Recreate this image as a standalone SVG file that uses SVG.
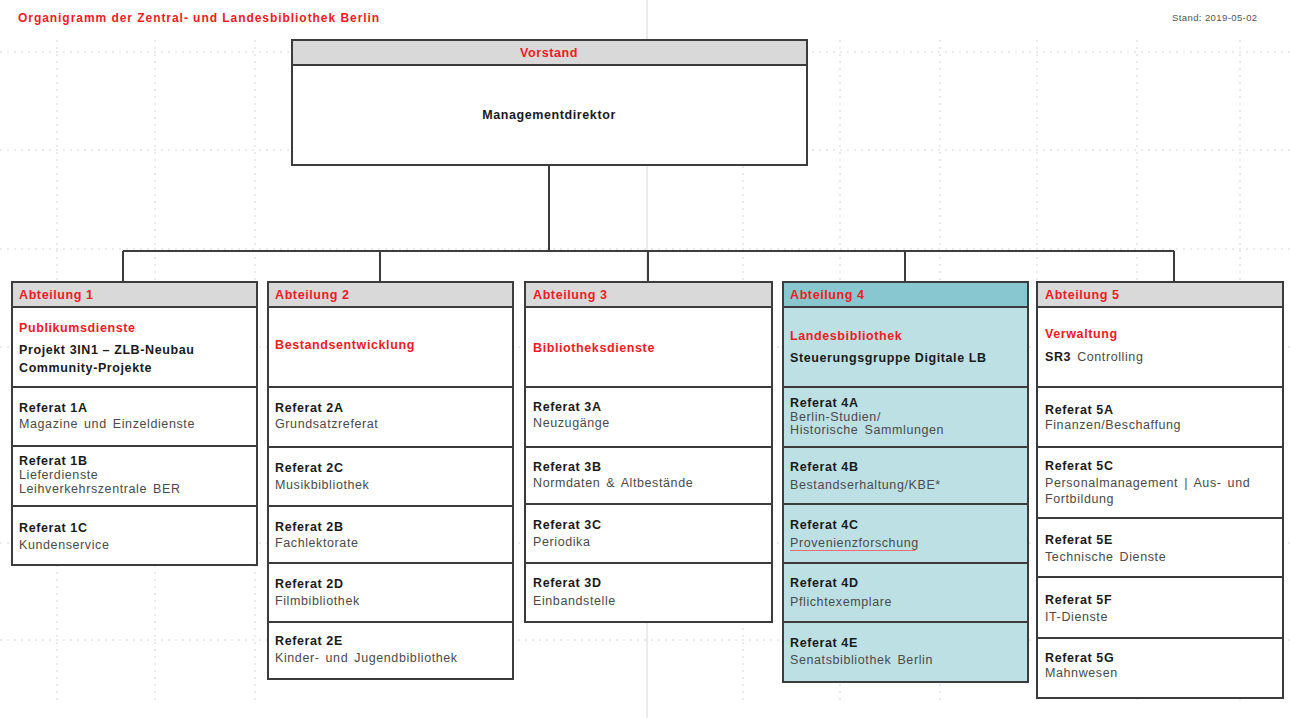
<svg xmlns="http://www.w3.org/2000/svg" width="1290" height="718" viewBox="0 0 1290 718">
<style>
text{font-family:"Liberation Sans",Arial,sans-serif;font-size:12.5px;letter-spacing:0.6px}
.red{fill:#ee1c25;font-weight:bold}
.b{fill:#1a1a1a;font-weight:bold}
.s{fill:#4a4a4a;word-spacing:2px}
.box{fill:#ffffff;stroke:#3c3c3c;stroke-width:2}
.hd{fill:#d9d9d9;stroke:#3c3c3c;stroke-width:2}
.tbox{fill:#bde0e4;stroke:#3c3c3c;stroke-width:2}
.thd{fill:#88c7cf;stroke:#3c3c3c;stroke-width:2}
.conn{stroke:#3c3c3c;stroke-width:2;fill:none}
.grid{stroke:#d4d4d4;stroke-width:1;stroke-dasharray:2 5;fill:none}
</style>
<rect width="1290" height="718" fill="#ffffff"/>
<g id="grid">
<path class="grid" d="M0 52H1290M0 150H1290M0 249H1290M0 347H1290M0 543H1290M0 640H1290"/>
<path class="grid" d="M57 40V700M155 40V700M255 40V700M743 40V700M840 40V700M940 40V700M1037 40V700M1137 40V700M1240 40V700"/>
<path d="M647 0V718" stroke="#d6d6d6" stroke-width="1" fill="none"/>
</g>
<text x="18" y="22" class="red" style="font-size:12px;letter-spacing:0.95px">Organigramm der Zentral- und Landesbibliothek Berlin</text>
<text x="1172" y="21" style="font-size:9.5px;fill:#555;letter-spacing:0.4px">Stand: 2019-05-02</text>

<g id="connectors">
<path class="conn" d="M549 166V251M123 251H1174M123 251V282M380 251V282M648 251V282M905 251V282M1174 251V282"/>
</g>

<g id="vorstand">
<rect class="box" x="292" y="40" width="515" height="125"/>
<rect class="hd" x="292" y="40" width="515" height="25"/>
<text x="549" y="57" class="red" text-anchor="middle">Vorstand</text>
<text x="549" y="119" class="b" text-anchor="middle">Managementdirektor</text>
</g>

<g id="abteilung1">
<rect class="box" x="12" y="282" width="245" height="283"/>
<rect class="hd" x="12" y="282" width="245" height="25"/>
<path class="conn" d="M12 387H257M12 446H257M12 506H257"/>
<text x="19" y="299" class="red">Abteilung 1</text>
<text x="19" y="332" class="red">Publikumsdienste</text>
<text x="19" y="354" class="b">Projekt 3IN1 – ZLB-Neubau</text>
<text x="19" y="372" class="b">Community-Projekte</text>
<text x="19" y="412" class="b">Referat 1A</text>
<text x="19" y="428" class="s">Magazine und Einzeldienste</text>
<text x="19" y="465" class="b">Referat 1B</text>
<text x="19" y="479" class="s">Lieferdienste</text>
<text x="19" y="493" class="s">Leihverkehrszentrale BER</text>
<text x="19" y="532" class="b">Referat 1C</text>
<text x="19" y="549" class="s">Kundenservice</text>
</g>

<g id="abteilung2">
<rect class="box" x="268" y="282" width="245" height="397"/>
<rect class="hd" x="268" y="282" width="245" height="25"/>
<path class="conn" d="M268 387H513M268 447H513M268 506H513M268 563H513M268 622H513"/>
<text x="275" y="299" class="red">Abteilung 2</text>
<text x="275" y="349" class="red">Bestandsentwicklung</text>
<text x="275" y="412" class="b">Referat 2A</text>
<text x="275" y="428" class="s">Grundsatzreferat</text>
<text x="275" y="472" class="b">Referat 2C</text>
<text x="275" y="489" class="s">Musikbibliothek</text>
<text x="275" y="531" class="b">Referat 2B</text>
<text x="275" y="547" class="s">Fachlektorate</text>
<text x="275" y="588" class="b">Referat 2D</text>
<text x="275" y="605" class="s">Filmbibliothek</text>
<text x="275" y="645" class="b">Referat 2E</text>
<text x="275" y="662" class="s">Kinder- und Jugendbibliothek</text>
</g>

<g id="abteilung3">
<rect class="box" x="525" y="282" width="247" height="340"/>
<rect class="hd" x="525" y="282" width="247" height="25"/>
<path class="conn" d="M525 387H772M525 447H772M525 504H772M525 563H772"/>
<text x="533" y="299" class="red">Abteilung 3</text>
<text x="533" y="352" class="red">Bibliotheksdienste</text>
<text x="533" y="411" class="b">Referat 3A</text>
<text x="533" y="427" class="s">Neuzugänge</text>
<text x="533" y="471" class="b">Referat 3B</text>
<text x="533" y="487" class="s">Normdaten &amp; Altbestände</text>
<text x="533" y="529" class="b">Referat 3C</text>
<text x="533" y="546" class="s">Periodika</text>
<text x="533" y="587" class="b">Referat 3D</text>
<text x="533" y="605" class="s">Einbandstelle</text>
</g>

<g id="abteilung4">
<rect class="tbox" x="783" y="282" width="245" height="400"/>
<rect class="thd" x="783" y="282" width="245" height="25"/>
<path class="conn" d="M783 387H1028M783 447H1028M783 504H1028M783 563H1028M783 622H1028"/>
<text x="790" y="299" class="red">Abteilung 4</text>
<text x="790" y="340" class="red">Landesbibliothek</text>
<text x="790" y="362" class="b">Steuerungsgruppe Digitale LB</text>
<text x="790" y="407" class="b">Referat 4A</text>
<text x="790" y="421" class="s">Berlin-Studien/</text>
<text x="790" y="434" class="s">Historische Sammlungen</text>
<text x="790" y="471" class="b">Referat 4B</text>
<text x="790" y="489" class="s">Bestandserhaltung/KBE*</text>
<text x="790" y="529" class="b">Referat 4C</text>
<text x="790" y="547" class="s">Provenienzforschung</text>
<path d="M790 550.5H915" stroke="#e0707a" stroke-width="1"/>
<text x="790" y="587" class="b">Referat 4D</text>
<text x="790" y="606" class="s">Pflichtexemplare</text>
<text x="790" y="647" class="b">Referat 4E</text>
<text x="790" y="664" class="s">Senatsbibliothek Berlin</text>
</g>

<g id="abteilung5">
<rect class="box" x="1037" y="282" width="246" height="416"/>
<rect class="hd" x="1037" y="282" width="246" height="25"/>
<path class="conn" d="M1037 387H1283M1037 447H1283M1037 518H1283M1037 577H1283M1037 638H1283"/>
<text x="1045" y="299" class="red">Abteilung 5</text>
<text x="1045" y="338" class="red">Verwaltung</text>
<text x="1045" y="361"><tspan class="b">SR3</tspan><tspan class="s" dx="6">Controlling</tspan></text>
<text x="1045" y="414" class="b">Referat 5A</text>
<text x="1045" y="429" class="s">Finanzen/Beschaffung</text>
<text x="1045" y="470" class="b">Referat 5C</text>
<text x="1045" y="487" class="s">Personalmanagement | Aus- und</text>
<text x="1045" y="503" class="s">Fortbildung</text>
<text x="1045" y="544" class="b">Referat 5E</text>
<text x="1045" y="561" class="s">Technische Dienste</text>
<text x="1045" y="604" class="b">Referat 5F</text>
<text x="1045" y="621" class="s">IT-Dienste</text>
<text x="1045" y="662" class="b">Referat 5G</text>
<text x="1045" y="677" class="s">Mahnwesen</text>
</g>
</svg>
